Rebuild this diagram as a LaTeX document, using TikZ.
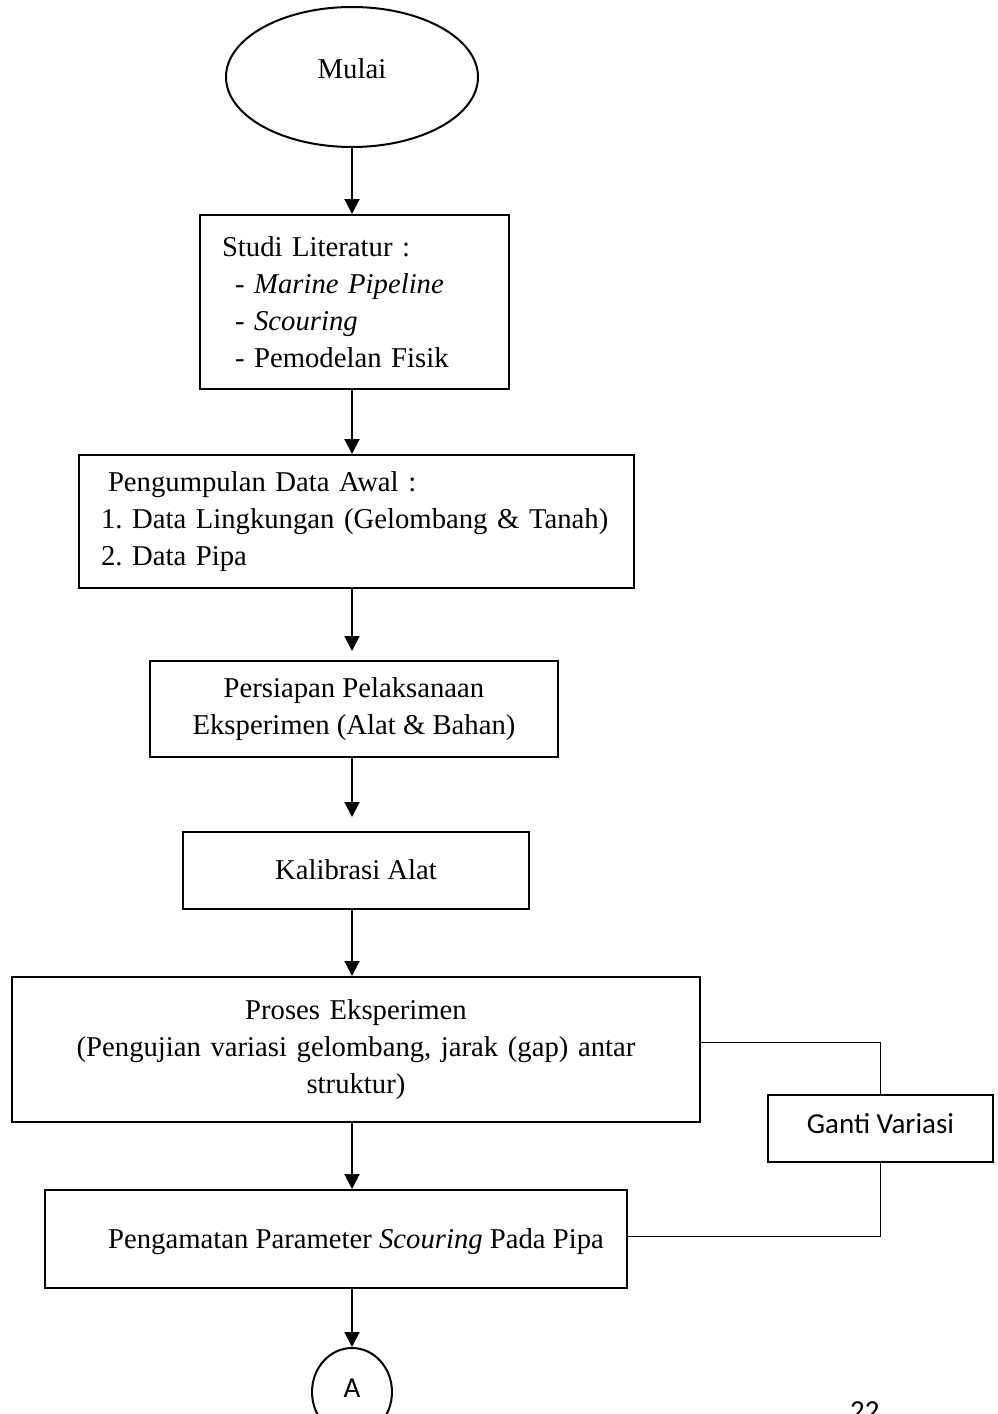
\documentclass[tikz,border=0pt]{standalone}
\usepackage{fontspec}
\setmainfont{Liberation Serif}
\newfontfamily\calibrifont{Carlito}
\usetikzlibrary{arrows.meta,shapes.geometric}
\frenchspacing
\begin{document}
\begin{tikzpicture}[x=1pt,y=-1pt,
  every node/.style={font=\fontsize{28.7}{37}\selectfont\frenchspacing},
  calib/.style={font=\calibrifont\fontsize{29}{37}\selectfont},
  box/.style={draw, line width=2pt, rectangle, inner sep=0pt},
  oval/.style={draw, ellipse, line width=2pt, inner sep=0pt},
  arr/.style={line width=2pt, -{Triangle[length=15pt,width=15pt]}},
  link/.style={line width=1pt}]
\useasboundingbox (0,0) rectangle (998,1414);

\node[oval, minimum width=252pt, minimum height=140pt, text height=10pt, text depth=8pt] (mulai) at (352,77) {Mulai};

\node[box, minimum width=309pt, minimum height=174pt, text width=265pt, align=left, inner xsep=22pt] (studi) at (354.5,302)
  {\mbox{Studi Literatur :}\\
   \mbox{\hspace*{13pt}- \textit{Marine Pipeline}}\\
   \mbox{\hspace*{13pt}- \textit{Scouring}}\\
   \mbox{\hspace*{13pt}- Pemodelan Fisik}};

\node[box, minimum width=555pt, minimum height=133pt, text width=511pt, align=left, inner xsep=22pt] (peng) at (356.5,521.5)
  {\mbox{\hspace*{7pt}Pengumpulan Data Awal :}\\
   \mbox{1. Data Lingkungan (Gelombang \& Tanah)}\\
   \mbox{2. Data Pipa}};

\node[box, minimum width=408pt, minimum height=96pt, align=center] (persiapan) at (354,709)
  {Persiapan Pelaksanaan\\ Eksperimen (Alat \& Bahan)};

\node[box, minimum width=346pt, minimum height=77pt, text height=20pt, text depth=3pt] (kalibrasi) at (356,870.5) {Kalibrasi Alat};

\node[box, minimum width=688pt, minimum height=145pt, text width=660pt, align=center, inner xsep=14pt] (proses) at (356,1049.5)
  {Proses Eksperimen\\
   \mbox{(Pengujian variasi gelombang, jarak (gap) antar}\\
   struktur)};

\node[box, minimum width=582pt, minimum height=98pt, text height=24pt, text depth=6pt] (pengamatan) at (336,1239)
  {\hspace*{40pt}Pengamatan Parameter \textit{Scouring} Pada Pipa};

\node[box, calib, minimum width=225pt, minimum height=67pt, text height=15pt, text depth=6pt] (ganti) at (880.5,1128.5) {Ganti Variasi};

\node[oval, calib, minimum width=80pt, minimum height=88pt, text height=10pt, text depth=0pt] (a) at (352,1392) {A};

\node[calib, anchor=base west, inner sep=0pt] (pg) at (850,1420) {22};

\draw[arr] (mulai.south) -- (studi.north -| mulai.south);
\draw[arr] (studi.south -| mulai.south) -- (peng.north -| mulai.south);
\draw[arr, shorten >=9pt] (peng.south -| mulai.south) -- (persiapan.north -| mulai.south);
\draw[arr, shorten >=14pt] (persiapan.south -| mulai.south) -- (kalibrasi.north -| mulai.south);
\draw[arr] (kalibrasi.south -| mulai.south) -- (proses.north -| mulai.south);
\draw[arr] (proses.south -| mulai.south) -- (pengamatan.north -| mulai.south);
\draw[arr] (pengamatan.south -| mulai.south) -- (a.north);

\draw[link] ([yshift=7.5pt]proses.east) -| (ganti.north);
\draw[link] (ganti.south) |- ([yshift=2.5pt]pengamatan.east);
\end{tikzpicture}
\end{document}
